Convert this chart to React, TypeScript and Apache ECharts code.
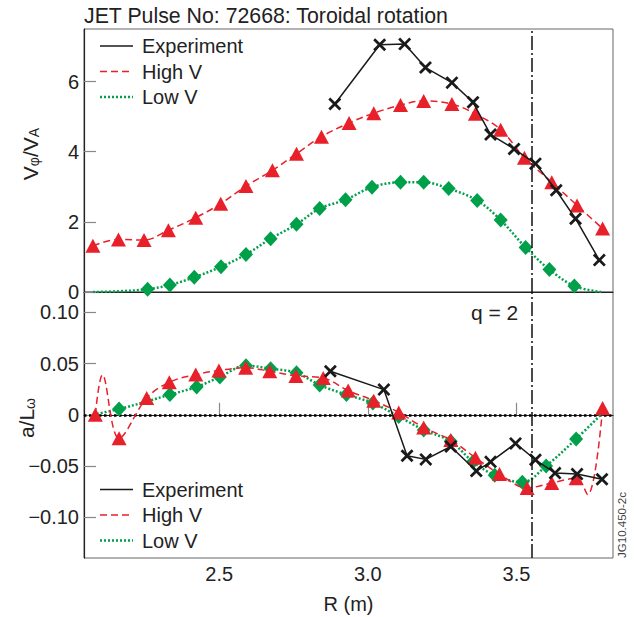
import React, { useEffect, useRef } from 'react';
import * as echarts from 'echarts';

const TITLE = 'JET Pulse No: 72668: Toroidal rotation';
const xTicks = [2.5, 3.0, 3.5];
const topYTicks = [0, 2, 4, 6];
const botYTicks = [-0.1, -0.05, 0, 0.05, 0.1];
const qLine = 3.55;
const legendNames = ['Experiment', 'High V', 'Low V'];

// Top panel: V_phi / V_A
const expR_top = [2.889, 3.04, 3.124, 3.194, 3.283, 3.354, 3.413, 3.492, 3.564, 3.634, 3.699, 3.779];
const expV_top = [5.36, 7.05, 7.07, 6.4, 5.97, 5.41, 4.49, 4.08, 3.66, 2.9, 2.09, 0.91];

const highR_top = [2.075, 2.161, 2.247, 2.329, 2.421, 2.505, 2.59, 2.679, 2.76, 2.844, 2.937, 3.02, 3.11, 3.188, 3.283, 3.362, 3.447, 3.527, 3.619, 3.704, 3.79];
const highV_top = [1.32, 1.5, 1.48, 1.76, 2.12, 2.52, 3.02, 3.47, 3.94, 4.43, 4.82, 5.1, 5.33, 5.45, 5.36, 5.08, 4.63, 3.83, 3.13, 2.47, 1.81];

const lowR_top = [2.075, 2.16, 2.259, 2.334, 2.416, 2.506, 2.59, 2.673, 2.76, 2.838, 2.925, 3.014, 3.11, 3.188, 3.272, 3.368, 3.447, 3.531, 3.611, 3.695, 3.785];
const lowV_top = [0, 0.02, 0.08, 0.2, 0.42, 0.72, 1.07, 1.52, 1.93, 2.38, 2.63, 2.99, 3.13, 3.13, 2.95, 2.61, 2.05, 1.27, 0.64, 0.17, 0];
const lowHidden_top = [0, 1, 20];

// Bottom panel: a / L_omega
const expR_bot = [2.874, 3.054, 3.132, 3.195, 3.279, 3.365, 3.413, 3.497, 3.564, 3.63, 3.704, 3.788];
const expA_bot = [0.0426, 0.0246, -0.04, -0.0436, -0.031, -0.055, -0.046, -0.028, -0.044, -0.057, -0.058, -0.063];

const highR_bot = [2.083, 2.107, 2.163, 2.256, 2.332, 2.421, 2.499, 2.589, 2.67, 2.758, 2.85, 2.934, 3.02, 3.104, 3.188, 3.279, 3.362, 3.443, 3.536, 3.619, 3.701, 3.74, 3.79];
const highA_bot = [0.0, 0.039, -0.023, 0.0164, 0.0318, 0.0394, 0.0433, 0.046, 0.0426, 0.038, 0.036, 0.0236, 0.0138, 0.0023, -0.0125, -0.0246, -0.042, -0.058, -0.0715, -0.0666, -0.062, -0.078, 0.0066];
const highHidden_bot = [1, 21];

const lowR_bot = [2.075, 2.163, 2.256, 2.334, 2.424, 2.502, 2.59, 2.673, 2.76, 2.838, 2.928, 3.017, 3.104, 3.188, 3.279, 3.354, 3.427, 3.52, 3.6, 3.701, 3.79];
const lowA_bot = [0, 0.0056, 0.013, 0.0197, 0.0272, 0.037, 0.048, 0.045, 0.041, 0.029, 0.0197, 0.0115, -0.0017, -0.0148, -0.026, -0.046, -0.059, -0.066, -0.05, -0.0236, 0.0017];
const lowHidden_bot = [0, 2, 20];

const RED = '#E8202A';
const GREEN = '#00A04B';
const BLACK = '#1a1a1a';
const FONT = '"Liberation Sans", Arial, Helvetica, sans-serif';
const CROSS = 'path://M0,1.5L1.5,0L5,3.5L8.5,0L10,1.5L6.5,5L10,8.5L8.5,10L5,6.5L1.5,10L0,8.5L3.5,5Z';

function pts(xs: number[], ys: number[], hidden: number[] = []) {
  return xs.map((x, i) =>
    hidden.includes(i) ? { value: [x, ys[i]], symbol: 'none' } : { value: [x, ys[i]] }
  );
}

export default function App() {
  const ref = useRef<HTMLDivElement>(null);
  useEffect(() => {
    document.body.style.margin = '0';
    if (!ref.current) return;
    const chart = echarts.init(ref.current, undefined, { renderer: 'svg' });

    const xMin = 2.045;
    const xMax = 3.825;
    const tickLine = { color: '#888', width: 1.2 };
    const labelStyle = { fontFamily: FONT, fontSize: 20, color: '#222' };

    const expStyle = {
      type: 'line',
      symbol: CROSS,
      symbolSize: 13,
      itemStyle: { color: BLACK },
      lineStyle: { color: BLACK, width: 1.5 },
      z: 4,
    };
    const highStyle = {
      type: 'line',
      symbol: 'triangle',
      symbolSize: [15, 14],
      smooth: 0.35,
      itemStyle: { color: RED },
      lineStyle: { color: RED, width: 1.5, type: [7, 4] },
      z: 3,
    };
    const lowStyle = {
      type: 'line',
      symbol: 'diamond',
      symbolSize: [14, 15],
      smooth: 0.35,
      itemStyle: { color: GREEN },
      lineStyle: { color: GREEN, width: 2.5, type: [2, 2] },
      z: 2,
    };
    const dashDot = { color: '#111', width: 1.5, type: [14, 3, 2, 3] };

    const legendGraphic = (y0: number) =>
      legendNames.flatMap((name, i) => {
        const y = y0 + i * 25.5;
        const ls =
          i === 0
            ? { stroke: BLACK, lineWidth: 1.5 }
            : i === 1
            ? { stroke: RED, lineWidth: 1.5, lineDash: [7, 4] }
            : { stroke: GREEN, lineWidth: 2.5, lineDash: [2, 2] };
        return [
          { type: 'line', shape: { x1: 100, y1: y, x2: 133, y2: y }, style: ls, z: 10 },
          {
            type: 'text',
            x: 142,
            y,
            style: { text: name, fontFamily: FONT, fontSize: 20, fill: '#222', textVerticalAlign: 'middle' },
            z: 10,
          },
        ];
      });

    chart.setOption({
      animation: false,
      grid: [
        { left: 84, right: 22, top: 29, height: 263, show: true, borderColor: '#666', borderWidth: 1 },
        { left: 84, right: 22, top: 292, height: 266, show: true, borderColor: '#666', borderWidth: 1 },
      ],
      xAxis: [
        {
          type: 'value', gridIndex: 0, min: xMin, max: xMax,
          axisLine: { show: true, lineStyle: { color: '#222', width: 1.2 } },
          axisTick: { show: false }, axisLabel: { show: false }, splitLine: { show: false },
        },
        {
          type: 'value', gridIndex: 1, min: xMin, max: xMax,
          axisLine: { show: true, lineStyle: { color: '#222', width: 1.2 } },
          axisTick: { show: true, inside: true, length: 12, customValues: xTicks, lineStyle: tickLine },
          axisLabel: { show: true, customValues: xTicks, margin: 6, formatter: (v: number) => v.toFixed(1), ...labelStyle },
          splitLine: { show: false },
          name: 'R (m)', nameLocation: 'middle', nameGap: 36,
          nameTextStyle: { fontFamily: FONT, fontSize: 20, color: '#222' },
        },
      ],
      yAxis: [
        {
          type: 'value', gridIndex: 0, min: 0, max: 7.5,
          axisLine: { show: true, lineStyle: { color: '#222', width: 1.2 } },
          axisTick: { show: true, inside: true, length: 12, customValues: topYTicks, lineStyle: tickLine },
          axisLabel: { show: true, customValues: topYTicks, margin: 5, ...labelStyle },
          splitLine: { show: false },
        },
        {
          type: 'value', gridIndex: 1, min: -0.14, max: 0.12,
          axisLine: { show: true, lineStyle: { color: '#222', width: 1.2 } },
          axisTick: { show: true, inside: true, length: 12, customValues: botYTicks, lineStyle: tickLine },
          axisLabel: {
            show: true, customValues: botYTicks, margin: 5,
            formatter: (v: number) => (Math.abs(v) < 1e-9 ? '0' : (v < 0 ? '\u2212' : '') + Math.abs(v).toFixed(2)),
            ...labelStyle,
          },
          splitLine: { show: false },
        },
      ],
      graphic: [
        {
          type: 'text', x: 84, y: 16,
          style: { text: TITLE, fontFamily: FONT, fontSize: 21.3, fill: '#222', textVerticalAlign: 'middle' },
        },
        {
          type: 'text', x: 28, y: 154, rotation: Math.PI / 2,
          style: {
            text: '{a|V}{b|φ}{a|/V}{b|A}',
            fontFamily: FONT, textAlign: 'center', textVerticalAlign: 'middle',
            rich: {
              a: { fontFamily: FONT, fontSize: 21, fill: '#222', verticalAlign: 'bottom', lineHeight: 26 },
              b: { fontFamily: FONT, fontSize: 14, fill: '#222', verticalAlign: 'bottom', lineHeight: 20 },
            },
          },
        },
        {
          type: 'text', x: 24, y: 418, rotation: Math.PI / 2,
          style: {
            text: '{a|a/L}{b|ω}',
            fontFamily: FONT, textAlign: 'center', textVerticalAlign: 'middle',
            rich: {
              a: { fontFamily: FONT, fontSize: 21, fill: '#222', verticalAlign: 'bottom', lineHeight: 26 },
              b: { fontFamily: FONT, fontSize: 14, fill: '#222', verticalAlign: 'bottom', lineHeight: 20 },
            },
          },
        },
        {
          type: 'text', x: 471, y: 312,
          style: { text: 'q = 2', fontFamily: FONT, fontSize: 21, fill: '#222', textVerticalAlign: 'middle' },
        },
        {
          type: 'text', x: 622, y: 525, rotation: Math.PI / 2,
          style: {
            text: 'JG10.450-2c', fontFamily: FONT, fontSize: 11.5, fill: '#444',
            textAlign: 'center', textVerticalAlign: 'middle',
          },
        },
        ...legendGraphic(46),
        ...legendGraphic(489.5),
      ],
      series: [
        { ...lowStyle, name: 'Low V', xAxisIndex: 0, yAxisIndex: 0, data: pts(lowR_top, lowV_top, lowHidden_top) },
        { ...highStyle, name: 'High V', xAxisIndex: 0, yAxisIndex: 0, data: pts(highR_top, highV_top) },
        {
          ...expStyle, name: 'Experiment', xAxisIndex: 0, yAxisIndex: 0, data: pts(expR_top, expV_top),
          markLine: {
            silent: true, symbol: ['none', 'none'], label: { show: false }, lineStyle: dashDot,
            data: [{ xAxis: qLine }],
          },
        },
        {
          ...lowStyle, name: 'Low V', xAxisIndex: 1, yAxisIndex: 1, data: pts(lowR_bot, lowA_bot, lowHidden_bot),
          markLine: {
            silent: true, symbol: ['none', 'none'], label: { show: false }, z: 1,
            lineStyle: { color: '#000', width: 2.5, type: [2.5, 2.5] },
            data: [{ yAxis: 0 }],
          },
        },
        { ...highStyle, name: 'High V', xAxisIndex: 1, yAxisIndex: 1, data: pts(highR_bot, highA_bot, highHidden_bot) },
        {
          ...expStyle, name: 'Experiment', xAxisIndex: 1, yAxisIndex: 1, data: pts(expR_bot, expA_bot),
          markLine: {
            silent: true, symbol: ['none', 'none'], label: { show: false }, lineStyle: dashDot,
            data: [{ xAxis: qLine }],
          },
        },
      ],
    });
    return () => chart.dispose();
  }, []);
  return <div ref={ref} style={{ width: 635, height: 617 }} />;
}
